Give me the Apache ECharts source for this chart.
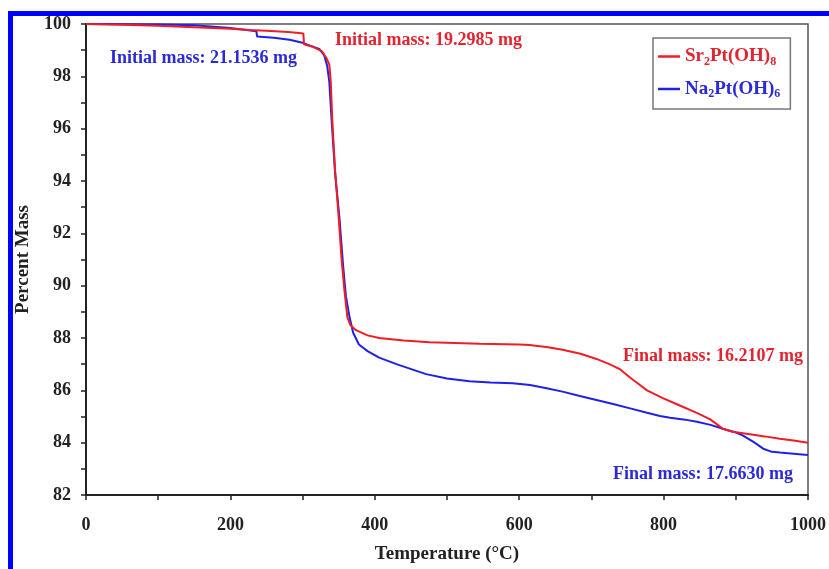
<!DOCTYPE html>
<html>
<head>
<meta charset="utf-8">
<script src="https://cdn.jsdelivr.net/npm/echarts@6/dist/echarts.min.js"></script>
<style>
html,body{margin:0;padding:0;background:#fff;}
#frame{position:absolute;left:8px;top:11px;width:900px;height:700px;border-left:5px solid #0000ff;border-top:5px solid #0000ff;}
#chart{position:absolute;left:0;top:0;width:829px;height:569px;}
</style>
</head>
<body>
<div id="frame"></div>
<div id="chart"></div>
<script>
// Sr2Pt(OH)8 : [temperature °C, percent mass]
const srTemp = [0,50,100,150,200,226,250,280,295,301,302,315,327,333,337,339,341,345,350,354,358,362,366,374,390,406,440,476,545,600,614,640,660,685,707,725,740,753,765,777,799,820,846,864,875,882,895,915,940,961,980,1000];
const srMass = [100,99.97,99.93,99.88,99.82,99.77,99.74,99.69,99.66,99.64,99.22,99.12,98.95,98.7,98.45,97.8,96.4,94.4,92.6,91.0,89.8,88.8,88.5,88.3,88.1,88.0,87.9,87.84,87.78,87.75,87.73,87.65,87.55,87.4,87.2,87.0,86.8,86.5,86.25,86.0,85.7,85.45,85.14,84.9,84.68,84.53,84.42,84.34,84.24,84.15,84.08,84.0];
// Na2Pt(OH)6
const naTemp = [0,50,100,150,200,236,237,260,282,300,323,330,334,337,340,345,351,356,360,365,370,378,390,406,430,471,500,531,560,591,615,638,660,684,707,730,755,777,795,809,830,846,865,882,897,910,925,938,950,961,980,1000];
const naMass = [100,99.99,99.98,99.95,99.85,99.72,99.52,99.47,99.4,99.28,99.05,98.8,98.4,97.8,96.4,94.3,92.6,90.8,89.6,88.8,88.2,87.75,87.5,87.25,87.0,86.62,86.45,86.35,86.3,86.27,86.2,86.08,85.95,85.78,85.63,85.48,85.3,85.14,85.02,84.95,84.88,84.8,84.68,84.53,84.42,84.27,84.02,83.77,83.65,83.62,83.58,83.53];

const seriesNames = ['Sr2Pt(OH)8','Na2Pt(OH)6'];
const xTicks = {min:0, max:1000, step:100, labelStep:200};
const yTicks = {min:82, max:100, step:1, labelStep:2};
const annotations = [
  {text:'Initial mass: 21.1536 mg', series:1},
  {text:'Initial mass: 19.2985 mg', series:0},
  {text:'Final mass: 16.2107 mg', series:0},
  {text:'Final mass: 17.6630 mg', series:1}
];

const RED = '#ef1d26';
const BLUE = '#2020e6';
const RED_T = '#e3242f';
const BLUE_T = '#2a2ad8';
const FONT = '"Liberation Serif","Times New Roman",serif';

const annPos = [[110,49],[335,31],[623,347],[613,465]];

const chart = echarts.init(document.getElementById('chart'), null, {renderer:'canvas'});
const zip = (a,b)=>a.map((v,i)=>[v,b[i]]);

chart.setOption({
  backgroundColor:'transparent',
  animation:false,
  grid:{left:86,top:24,right:20,bottom:69,show:true,borderColor:'#555',borderWidth:1.5,backgroundColor:'transparent'},
  xAxis:{
    type:'value',min:xTicks.min,max:xTicks.max,interval:xTicks.step,
    name:'Temperature (°C)',nameLocation:'middle',nameGap:50,
    nameTextStyle:{fontFamily:FONT,fontWeight:'bold',fontSize:19,color:'#222'},
    axisLine:{show:true,lineStyle:{color:'#222',width:2}},
    axisTick:{show:true,length:5,lineStyle:{color:'#222',width:1.5}},
    axisLabel:{margin:21,fontFamily:FONT,fontWeight:'bold',fontSize:18,color:'#222',
      formatter:v=> (v % xTicks.labelStep === 0 ? String(v) : '')},
    splitLine:{show:false}
  },
  yAxis:{
    type:'value',min:yTicks.min,max:yTicks.max,interval:yTicks.step,
    name:'Percent Mass',nameLocation:'middle',nameGap:53,
    nameTextStyle:{fontFamily:FONT,fontWeight:'bold',fontSize:19,color:'#222'},
    axisLine:{show:true,lineStyle:{color:'#222',width:2}},
    axisTick:{show:true,length:5,lineStyle:{color:'#222',width:1.5}},
    axisLabel:{margin:15,fontFamily:FONT,fontWeight:'bold',fontSize:18,color:'#222',
      formatter:v=> (v % yTicks.labelStep === 0 ? String(v) : '')},
    splitLine:{show:false}
  },
  legend:{
    orient:'vertical',left:653,top:38,
    padding:[9,10,9,5],itemGap:12,
    borderColor:'#777',borderWidth:1.5,backgroundColor:'#fff',
    icon:'rect',itemWidth:22,itemHeight:2.5,
    data:[{name:seriesNames[0]},{name:seriesNames[1]}],
    formatter:function(name){
      if(name===seriesNames[0]) return '{rn|Sr}{rs|2}{rn|Pt(OH)}{rs|8}';
      return '{bn|Na}{bs|2}{bn|Pt(OH)}{bs|6}';
    },
    textStyle:{
      fontFamily:FONT,fontWeight:'bold',fontSize:19,
      rich:{
        rn:{fontFamily:FONT,fontWeight:'bold',fontSize:19,color:RED_T,lineHeight:22},
        rs:{fontFamily:FONT,fontWeight:'bold',fontSize:12,color:RED_T,verticalAlign:'bottom',lineHeight:15},
        bn:{fontFamily:FONT,fontWeight:'bold',fontSize:19,color:BLUE_T,lineHeight:22},
        bs:{fontFamily:FONT,fontWeight:'bold',fontSize:12,color:BLUE_T,verticalAlign:'bottom',lineHeight:15}
      }
    }
  },
  graphic: annotations.map((a,i)=>({
    type:'text',left:annPos[i][0],top:annPos[i][1],z:100,
    style:{text:a.text,fill:a.series===0?RED_T:BLUE_T,font:'bold 18px '+FONT}
  })),
  series:[
    {name:seriesNames[0],type:'line',data:zip(srTemp,srMass),showSymbol:false,symbol:'none',
     lineStyle:{color:RED,width:2},itemStyle:{color:RED},z:3},
    {name:seriesNames[1],type:'line',data:zip(naTemp,naMass),showSymbol:false,symbol:'none',
     lineStyle:{color:BLUE,width:2},itemStyle:{color:BLUE},z:2}
  ]
});
</script>
</body>
</html>
